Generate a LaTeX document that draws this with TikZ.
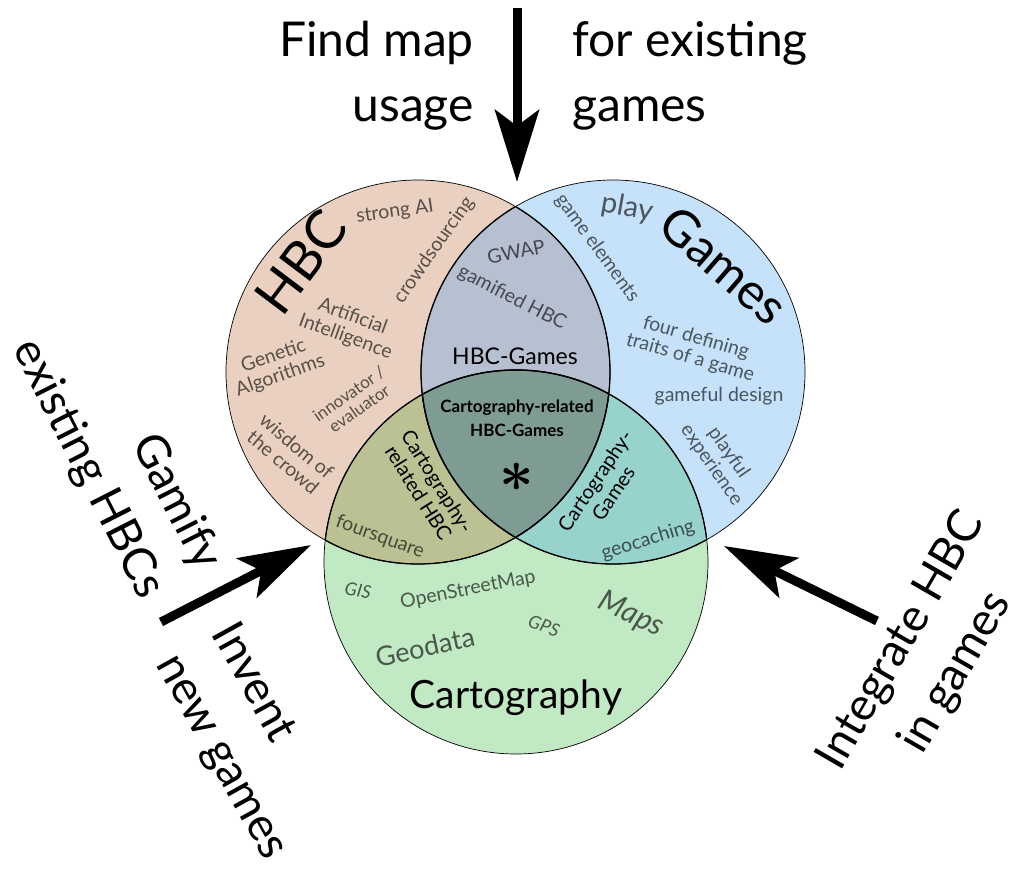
\documentclass[tikz,border=0pt]{standalone}
\usepackage{fontspec}
\usepackage{bm}
\setmainfont{Lato}
\usetikzlibrary{arrows.meta}

% region fills
\definecolor{hbcfill}{HTML}{E9D0C0}
\definecolor{gamefill}{HTML}{C6E2FA}
\definecolor{mapfill}{HTML}{C1E9C4}
\definecolor{hgfill}{HTML}{B7C0D0}
\definecolor{hmfill}{HTML}{BCC194}
\definecolor{gmfill}{HTML}{98D2CD}
\definecolor{allfill}{HTML}{7E9B94}

\def\circR{192pt}

\begin{document}
\begin{tikzpicture}[x=1pt,y=-1pt,
  word/.style={text=black, text opacity=0.62, inner sep=0pt, align=center,
    font=\fontsize{19.5}{21}\selectfont},
  bigword/.style={word, font=\fontsize{#1}{#1}\selectfont},
  title/.style={text=black, inner sep=0pt, align=center, font=\fontsize{#1}{#1}\selectfont},
  sublabel/.style={text=black, inner sep=0pt, align=center, font=\fontsize{20}{22}\selectfont},
  outer/.style={text=black, inner sep=0pt, font=\fontsize{48}{65}\selectfont},
  slanted outer/.style={outer, font=\fontsize{46}{63}\selectfont},
  bigarrow/.style={line width=9pt, -{Stealth[length=72pt, width=44pt, inset=16pt]}},
  rim/.style={line width=0.7pt},
  innerrim/.style={line width=1.3pt}]

\useasboundingbox (0,0) rectangle (1021,870);

% circle centres
\coordinate (H) at (418,372);
\coordinate (G) at (613,372);
\coordinate (M) at (516,562);

% base discs
\fill[hbcfill] (H) circle[radius=\circR];
\fill[gamefill] (G) circle[radius=\circR];
\fill[mapfill] (M) circle[radius=\circR];

% pairwise overlaps
\begin{scope}
  \clip (H) circle[radius=\circR];
  \fill[hgfill] (G) circle[radius=\circR];
  \fill[hmfill] (M) circle[radius=\circR];
\end{scope}
\begin{scope}
  \clip (G) circle[radius=\circR];
  \fill[gmfill] (M) circle[radius=\circR];
\end{scope}
% triple overlap
\begin{scope}
  \clip (H) circle[radius=\circR];
  \clip (G) circle[radius=\circR];
  \fill[allfill] (M) circle[radius=\circR];
\end{scope}

% outlines
\draw[rim] (H) circle[radius=\circR];
\draw[rim] (G) circle[radius=\circR];
\draw[rim] (M) circle[radius=\circR];
\begin{scope}
  \clip (H) circle[radius=\circR];
  \draw[innerrim] (G) circle[radius=\circR];
  \draw[innerrim] (M) circle[radius=\circR];
\end{scope}
\begin{scope}
  \clip (G) circle[radius=\circR];
  \draw[innerrim] (H) circle[radius=\circR];
  \draw[innerrim] (M) circle[radius=\circR];
\end{scope}
\begin{scope}
  \clip (M) circle[radius=\circR];
  \draw[innerrim] (H) circle[radius=\circR];
  \draw[innerrim] (G) circle[radius=\circR];
\end{scope}

% set titles
\node[title=54, rotate=53] (hbc) at (301,262) {HBC};
\node[title=50, rotate=-41] (games) at (724,265) {Games};
\node[title=39, anchor=base] (carto) at (516,708) {Cartography};
\node[title=23, anchor=base] (hbcgames) at (515,364) {HBC-Games};
\node[title=17, font=\fontsize{17}{24}\selectfont\bfseries, anchor=north] (core) at (517,400)
  {Cartography-related\\HBC-Games};
\node[inner sep=0pt, scale=6] (star) at (517,477) {$\bm{\ast}$};
\node[sublabel, rotate=-58] (cartohbc) at (428,487) {Cartography-\\related HBC};
\node[sublabel, rotate=56] (cartogames) at (604,487) {Cartography-\\Games};

% HBC terms
\node[word, rotate=8] (strongai) at (395,212) {strong AI};
\node[word, rotate=55] (crowd) at (434,250) {crowdsourcing};
\node[word, rotate=-20] (ai) at (349,327) {Artificial\\Intelligence};
\node[word, rotate=19] (genetic) at (277,366) {Genetic\\Algorithms};
\node[word, rotate=35, font=\fontsize{17}{18}\selectfont] (innov) at (354,401) {innovator /\\evaluator};
\node[word, rotate=-40] (wisdom) at (290,454) {wisdom of\\the crowd};
\node[word, rotate=-20] (foursq) at (380,537) {foursquare};

% HBC-Games terms
\node[word, rotate=12] (gwap) at (516,252) {GWAP};
\node[word, rotate=-27] (gamified) at (512,298) {gamified HBC};

% Games terms
\node[bigword=29, rotate=-10] (play) at (627,208) {play};
\node[word, rotate=-54] (gameel) at (597,248) {game elements};
\node[word, rotate=-16] (traits) at (693,348) {four defining\\traits of a game};
\node[word] (gameful) at (719,396) {gameful design};
\node[word, rotate=-55] (playful) at (720,459) {playful\\experience};
\node[word, rotate=17] (geocach) at (648,540) {geocaching};

% Cartography terms
\node[word, rotate=-10, font=\fontsize{18}{18}\selectfont\itshape] (gis) at (358,590) {GIS};
\node[word, rotate=11] (osm) at (468,590) {OpenStreetMap};
\node[word, rotate=-20, font=\fontsize{18}{18}\selectfont\itshape] (gps) at (544,626) {GPS};
\node[bigword=30, rotate=-25, font=\fontsize{30}{30}\selectfont\itshape] (maps) at (631,615) {Maps};
\node[bigword=27, rotate=12] (geodata) at (425,647) {Geodata};

% directions around the diagram
\node[outer, align=right, anchor=east] (findmap) at (474,76) {Find map\\usage};
\node[outer, align=left, anchor=west] (forexist) at (572,76) {for existing\\games};
\node[slanted outer, align=right, rotate=-63] (gamify) at (116,455) {Gamify\\existing HBCs};
\node[slanted outer, align=left, rotate=-61] (invent) at (249,742) {Invent\\new games};
\node[slanted outer, align=center, rotate=60] (integrate) at (929,657) {Integrate HBC\\in games};

\coordinate (topstart) at (517,8);
\coordinate (topend) at (517,182);
\coordinate (leftstart) at (161,622);
\coordinate (leftend) at (311,545);
\coordinate (rightstart) at (877,621);
\coordinate (rightend) at (724,546);
\draw[bigarrow] (topstart) -- (topend);
\draw[bigarrow] (leftstart) -- (leftend);
\draw[bigarrow] (rightstart) -- (rightend);
\end{tikzpicture}
\end{document}
